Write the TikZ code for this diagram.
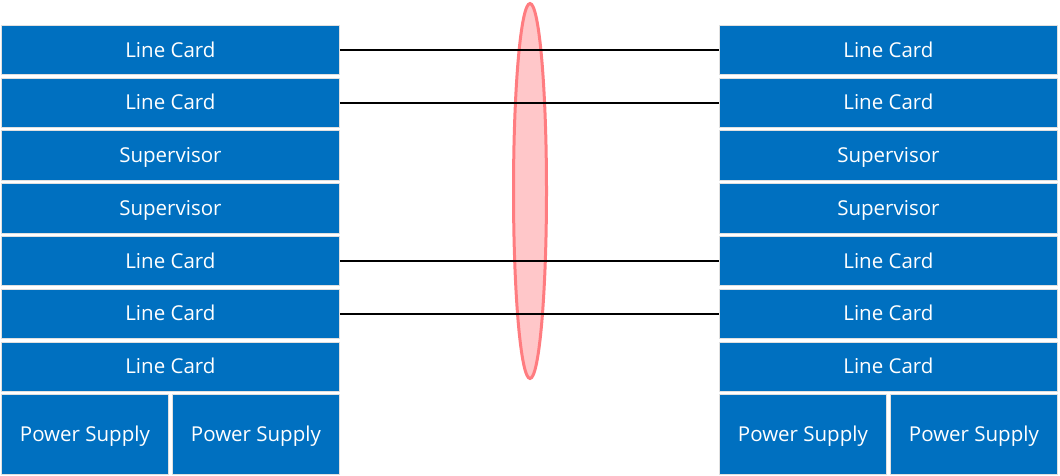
\documentclass[tikz,border=0pt]{standalone}
\usepackage{fontspec}
\setmainfont{Open Sans}
\usetikzlibrary{shapes.geometric}
\definecolor{cardblue}{HTML}{0070C0}
\definecolor{lensfill}{HTML}{FFC7C9}
\definecolor{lensline}{HTML}{FF7C80}
\begin{document}
\begin{tikzpicture}[x=1pt,y=-1pt,
  card/.style={draw=black!12,line width=0.8pt,fill=cardblue,text=white,inner sep=0pt,
    text height=16pt,text depth=2pt,
    minimum height=49.3pt,anchor=north west,font=\fontsize{20.5}{24}\selectfont},
  full/.style={card,minimum width=338pt},
  half/.style={card,minimum width=167pt,minimum height=80pt},
  link/.style={draw=black,line width=1.6pt}]
\useasboundingbox (0,0) rectangle (1060,476);
% lens
\node[draw=lensline,fill=lensfill,line width=3pt,ellipse,minimum width=33pt,minimum height=375pt,inner sep=0pt] (lens) at (530,191) {};
% chassis
\foreach \i/\t in {1/Line Card,2/Line Card,3/Supervisor,4/Supervisor,5/Line Card,6/Line Card,7/Line Card}{
  \node[full] (L\i) at (1,{25+(\i-1)*52.75}) {\t};
  \node[full] (R\i) at (719,{25+(\i-1)*52.75}) {\t};
}
\node[half] (LP1) at (1,394.3) {Power Supply};
\node[half] (LP2) at (172,394.3) {Power Supply};
\node[half] (RP1) at (719,394.3) {Power Supply};
\node[half] (RP2) at (890,394.3) {Power Supply};
% links
\foreach \i in {1,2,5,6}{
  \draw[link] (L\i.east) -- (R\i.west);
}
\end{tikzpicture}
\end{document}
